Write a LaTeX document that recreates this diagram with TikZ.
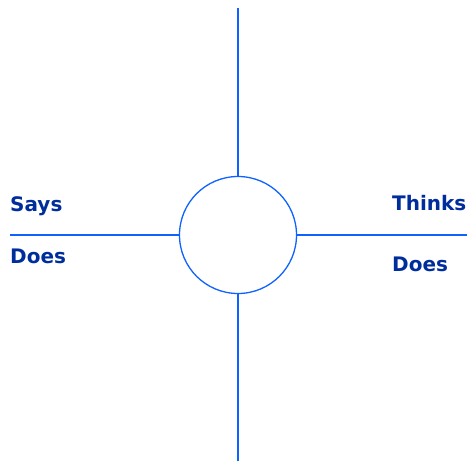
\documentclass[tikz,border=0pt]{standalone}
\usepackage{fontspec}
\setmainfont{DejaVu Sans}
\definecolor{mapline}{HTML}{0F62FE}
\definecolor{maptext}{HTML}{002D9C}
\tikzset{
	quad/.style={anchor=base west, inner sep=0pt, font=\bfseries\fontsize{20}{20}\selectfont, text=maptext},
	axis/.style={draw=mapline, line width=1.3pt}
}
\begin{document}
\begin{tikzpicture}[x=1pt, y=-1pt]
		\useasboundingbox (0,0) rectangle (467,461);

		\node[circle, axis, minimum size=117pt, inner sep=0pt] (hub) at (238,235) {};

		\coordinate (top) at (238,8);
		\coordinate (bottom) at (238,461);
		\coordinate (left) at (10,235);
		\coordinate (right) at (467,235);

		\draw[axis] (hub.north) -- (top);
		\draw[axis] (hub.south) -- (bottom);
		\draw[axis] (hub.west) -- (left);
		\draw[axis] (hub.east) -- (right);

		\node[quad] (says) at (10,211) {Says};
		\node[quad] (doesleft) at (10,263) {Does};
		\node[quad] (thinks) at (392,210) {Thinks};
		\node[quad] (doesright) at (392,271) {Does};
	\end{tikzpicture}
\end{document}
